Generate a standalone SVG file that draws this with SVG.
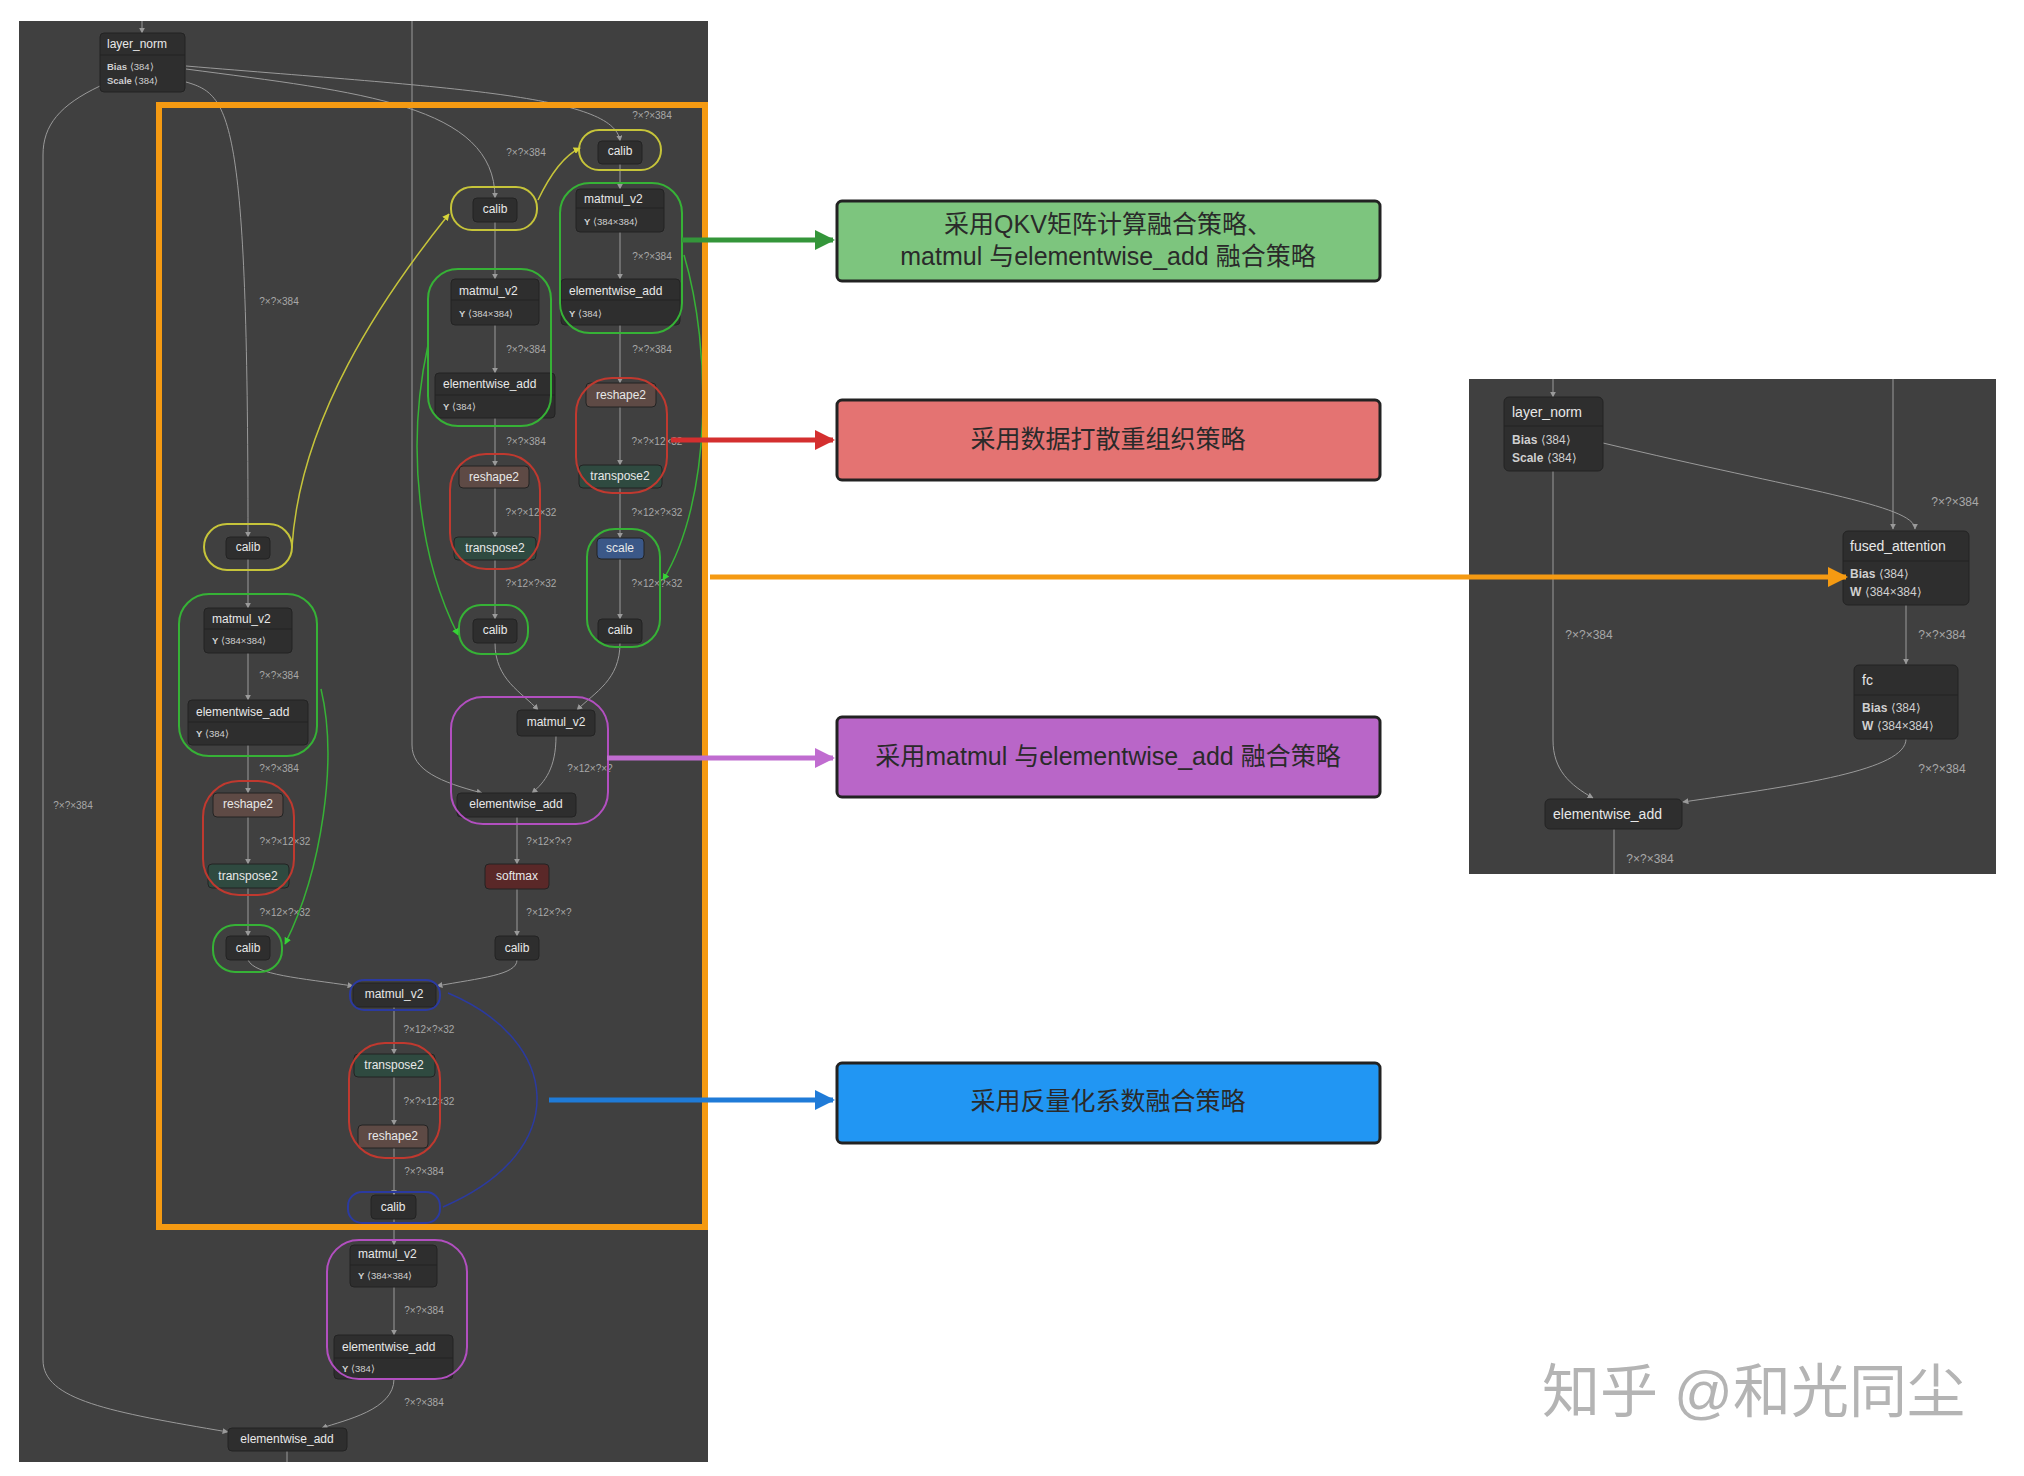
<svg xmlns="http://www.w3.org/2000/svg" width="2024" height="1476" viewBox="0 0 2024 1476">
<style>
text{font-family:"Liberation Sans","Noto Sans CJK SC",sans-serif}
.panel{fill:#404040}
.n{fill:#2e2e2e;stroke:#232323;stroke-width:1}
.rs{fill:#5e4a45}
.tr{fill:#2f4a40}
.sc{fill:#3b5888}
.sm{fill:#5a2828}
.t{fill:#e8e8e8;font-size:12px;dominant-baseline:middle}
.c{text-anchor:middle}
.a{fill:#d0d0d0;font-size:9.5px;dominant-baseline:middle}
.lbl{fill:#a8a8a8;font-size:10px;text-anchor:middle;dominant-baseline:middle}
.e{fill:none;stroke:#9a9a9a;stroke-width:1;marker-end:url(#ah)}
.e2{fill:none;stroke:#9a9a9a;stroke-width:1}
.ry{fill:none;stroke:#c6c43a;stroke-width:2}
.rg{fill:none;stroke:#36b236;stroke-width:2}
.rr{fill:none;stroke:#c0392f;stroke-width:2}
.rp{fill:none;stroke:#b24fc0;stroke-width:2}
.rb{fill:none;stroke:#2b3aa0;stroke-width:2}
.box{stroke:#222;stroke-width:3}
.bt{font-size:25px;fill:#2a2a2a;text-anchor:middle;dominant-baseline:middle}
.t2{fill:#e8e8e8;font-size:14px;dominant-baseline:middle}
.a2{fill:#d0d0d0;font-size:12px;dominant-baseline:middle}
.lbl2{fill:#a8a8a8;font-size:12px;text-anchor:middle;dominant-baseline:middle}
</style>
<defs>
<marker id="ah" viewBox="0 0 10 10" refX="9" refY="5" markerWidth="6" markerHeight="6" markerUnits="userSpaceOnUse" orient="auto"><path d="M0,0 L10,5 L0,10 z" fill="#9a9a9a"/></marker>
<marker id="ay" viewBox="0 0 10 10" refX="9" refY="5" markerWidth="7" markerHeight="7" markerUnits="userSpaceOnUse" orient="auto"><path d="M0,0 L10,5 L0,10 z" fill="#d6d43a"/></marker>
<marker id="ag" viewBox="0 0 10 10" refX="9" refY="5" markerWidth="7" markerHeight="7" markerUnits="userSpaceOnUse" orient="auto"><path d="M0,0 L10,5 L0,10 z" fill="#36d236"/></marker>
<marker id="hg" viewBox="0 0 10 10" refX="9" refY="5" markerWidth="24" markerHeight="20" markerUnits="userSpaceOnUse" orient="auto"><path d="M0,0 L10,5 L0,10 z" fill="#34963a"/></marker>
<marker id="hr" viewBox="0 0 10 10" refX="9" refY="5" markerWidth="24" markerHeight="20" markerUnits="userSpaceOnUse" orient="auto"><path d="M0,0 L10,5 L0,10 z" fill="#d42f2f"/></marker>
<marker id="hp" viewBox="0 0 10 10" refX="9" refY="5" markerWidth="24" markerHeight="20" markerUnits="userSpaceOnUse" orient="auto"><path d="M0,0 L10,5 L0,10 z" fill="#c06cd0"/></marker>
<marker id="hb" viewBox="0 0 10 10" refX="9" refY="5" markerWidth="24" markerHeight="20" markerUnits="userSpaceOnUse" orient="auto"><path d="M0,0 L10,5 L0,10 z" fill="#1f7bd8"/></marker>
<marker id="ho" viewBox="0 0 10 10" refX="9" refY="5" markerWidth="24" markerHeight="20" markerUnits="userSpaceOnUse" orient="auto"><path d="M0,0 L10,5 L0,10 z" fill="#f59a12"/></marker>
</defs>
<rect width="2024" height="1476" fill="#ffffff"/>
<rect class="panel" x="19" y="21" width="689" height="1441"/>
<rect class="panel" x="1469" y="379" width="527" height="495"/>

<g id="connectors">
<path class="e" d="M142,21 L142,33"/>
<path class="e" d="M186,66 C 450,88 615,95 620,141"/>
<path class="e" d="M186,69 C 360,92 495,105 495,198"/>
<path class="e" d="M186,82 C 230,95 248,110 248,537"/>
<path class="e" d="M100,86 C 60,105 43,125 43,155 L43,1360 C43,1400 110,1412 228,1432"/>
<path class="e" d="M412,21 L412,745 C412,770 440,782 482,793"/>
<path class="e" d="M620,164 L620,189"/>
<path class="e" d="M620,232 L620,279"/>
<path class="e" d="M620,325 L620,383"/>
<path class="e" d="M620,407 L620,465"/>
<path class="e" d="M620,488 L620,538"/>
<path class="e" d="M620,559 L620,619"/>
<path class="e" d="M620,643 C 620,680 595,692 577,710"/>
<path class="e" d="M495,222 L495,279"/>
<path class="e" d="M495,325 L495,373"/>
<path class="e" d="M495,418 L495,466"/>
<path class="e" d="M495,488 L495,537"/>
<path class="e" d="M495,560 L495,619"/>
<path class="e" d="M495,643 C 495,680 522,692 538,710"/>
<path class="e" d="M556,736 C 556,768 545,782 532,793"/>
<path class="e" d="M517,817 L517,864"/>
<path class="e" d="M517,889 L517,936"/>
<path class="e" d="M517,960 C 517,975 480,978 437,986"/>
<path class="e" d="M248,559 L248,608"/>
<path class="e" d="M248,653 L248,700"/>
<path class="e" d="M248,745 L248,793"/>
<path class="e" d="M248,817 L248,864"/>
<path class="e" d="M248,888 L248,936"/>
<path class="e" d="M248,960 C 255,975 300,978 353,986"/>
<path class="e" d="M394,1007 L394,1054"/>
<path class="e" d="M394,1077 L394,1125"/>
<path class="e" d="M394,1148 L394,1195"/>
<path class="e" d="M394,1219 L394,1245"/>
<path class="e" d="M394,1287 L394,1335"/>
<path class="e" d="M394,1379 C 394,1410 345,1420 322,1428"/>
<path class="e2" d="M287,1451 L287,1462"/>
<path class="e" d="M1553,379 L1553,397"/>
<path class="e" d="M1893,379 L1893,529"/>
<path class="e" d="M1603,443 C 1800,490 1915,505 1915,529"/>
<path class="e" d="M1906,605 L1906,664"/>
<path class="e" d="M1553,471 L1553,740 C1553,770 1570,785 1593,798"/>
<path class="e" d="M1906,739 C 1906,770 1800,785 1683,802"/>
<path class="e2" d="M1614,829 L1614,874"/>
</g>

<g id="labels">
<text class="lbl" x="652" y="116">?×?×384</text>
<text class="lbl" x="526" y="153">?×?×384</text>
<text class="lbl" x="279" y="302">?×?×384</text>
<text class="lbl" x="652" y="257">?×?×384</text>
<text class="lbl" x="526" y="350">?×?×384</text>
<text class="lbl" x="652" y="350">?×?×384</text>
<text class="lbl" x="526" y="442">?×?×384</text>
<text class="lbl" x="657" y="442">?×?×12×32</text>
<text class="lbl" x="531" y="513">?×?×12×32</text>
<text class="lbl" x="657" y="513">?×12×?×32</text>
<text class="lbl" x="531" y="584">?×12×?×32</text>
<text class="lbl" x="657" y="584">?×12×?×32</text>
<text class="lbl" x="279" y="676">?×?×384</text>
<text class="lbl" x="279" y="769">?×?×384</text>
<text class="lbl" x="590" y="769">?×12×?×?</text>
<text class="lbl" x="285" y="842">?×?×12×32</text>
<text class="lbl" x="549" y="842">?×12×?×?</text>
<text class="lbl" x="285" y="913">?×12×?×32</text>
<text class="lbl" x="549" y="913">?×12×?×?</text>
<text class="lbl" x="73" y="806">?×?×384</text>
<text class="lbl" x="429" y="1030">?×12×?×32</text>
<text class="lbl" x="429" y="1102">?×?×12×32</text>
<text class="lbl" x="424" y="1172">?×?×384</text>
<text class="lbl" x="424" y="1311">?×?×384</text>
<text class="lbl" x="424" y="1403">?×?×384</text>
<text class="lbl2" x="1955" y="503">?×?×384</text>
<text class="lbl2" x="1942" y="636">?×?×384</text>
<text class="lbl2" x="1589" y="636">?×?×384</text>
<text class="lbl2" x="1942" y="770">?×?×384</text>
<text class="lbl2" x="1650" y="860">?×?×384</text>
</g>

<g id="layer_norm"><rect class="n" x="100" y="33" width="85" height="59" rx="4"/><line x1="100" y1="55" x2="185" y2="55" stroke="#222"/><text class="t" x="107" y="45">layer_norm</text><text class="a" x="107" y="67"><tspan font-weight="bold">Bias</tspan> ⟨384⟩</text><text class="a" x="107" y="81"><tspan font-weight="bold">Scale</tspan> ⟨384⟩</text></g>
<g id="calibA"><rect class="n" x="598" y="141" width="44" height="23" rx="4"/><text class="t c" x="620" y="152">calib</text></g>
<g id="calibB"><rect class="n" x="473" y="198" width="44" height="24" rx="4"/><text class="t c" x="495" y="210">calib</text></g>
<g id="mmR"><rect class="n" x="576" y="189" width="88" height="43" rx="4"/><line x1="576" y1="208" x2="664" y2="208" stroke="#222"/><text class="t" x="584" y="200">matmul_v2</text><text class="a" x="584" y="222"><tspan font-weight="bold">Y</tspan> ⟨384×384⟩</text></g>
<g id="ewR"><rect class="n" x="561" y="279" width="119" height="46" rx="4"/><line x1="561" y1="300" x2="680" y2="300" stroke="#222"/><text class="t" x="569" y="292">elementwise_add</text><text class="a" x="569" y="314"><tspan font-weight="bold">Y</tspan> ⟨384⟩</text></g>
<g id="reR"><rect class="n rs" x="586" y="383" width="70" height="24" rx="4"/><text class="t c" x="621" y="396">reshape2</text></g>
<g id="trR"><rect class="n tr" x="579" y="465" width="83" height="23" rx="4"/><text class="t c" x="620" y="477">transpose2</text></g>
<g id="scale"><rect class="n sc" x="597" y="538" width="47" height="21" rx="4"/><text class="t c" x="620" y="549">scale</text></g>
<g id="calibR2"><rect class="n" x="598" y="619" width="44" height="24" rx="4"/><text class="t c" x="620" y="631">calib</text></g>
<g id="mmM"><rect class="n" x="451" y="279" width="88" height="46" rx="4"/><line x1="451" y1="300" x2="539" y2="300" stroke="#222"/><text class="t" x="459" y="292">matmul_v2</text><text class="a" x="459" y="314"><tspan font-weight="bold">Y</tspan> ⟨384×384⟩</text></g>
<g id="ewM"><rect class="n" x="435" y="373" width="120" height="45" rx="4"/><line x1="435" y1="395" x2="555" y2="395" stroke="#222"/><text class="t" x="443" y="385">elementwise_add</text><text class="a" x="443" y="407"><tspan font-weight="bold">Y</tspan> ⟨384⟩</text></g>
<g id="reM"><rect class="n rs" x="459" y="466" width="70" height="22" rx="4"/><text class="t c" x="494" y="478">reshape2</text></g>
<g id="trM"><rect class="n tr" x="454" y="537" width="82" height="23" rx="4"/><text class="t c" x="495" y="549">transpose2</text></g>
<g id="calibM2"><rect class="n" x="473" y="619" width="44" height="24" rx="4"/><text class="t c" x="495" y="631">calib</text></g>
<g id="calibL"><rect class="n" x="226" y="537" width="44" height="22" rx="4"/><text class="t c" x="248" y="548">calib</text></g>
<g id="mmL"><rect class="n" x="204" y="608" width="88" height="45" rx="4"/><line x1="204" y1="629" x2="292" y2="629" stroke="#222"/><text class="t" x="212" y="620">matmul_v2</text><text class="a" x="212" y="641"><tspan font-weight="bold">Y</tspan> ⟨384×384⟩</text></g>
<g id="ewL"><rect class="n" x="188" y="700" width="120" height="45" rx="4"/><line x1="188" y1="722" x2="308" y2="722" stroke="#222"/><text class="t" x="196" y="713">elementwise_add</text><text class="a" x="196" y="734"><tspan font-weight="bold">Y</tspan> ⟨384⟩</text></g>
<g id="reL"><rect class="n rs" x="213" y="793" width="70" height="24" rx="4"/><text class="t c" x="248" y="805">reshape2</text></g>
<g id="trL"><rect class="n tr" x="208" y="864" width="81" height="24" rx="4"/><text class="t c" x="248" y="877">transpose2</text></g>
<g id="calibL2"><rect class="n" x="226" y="936" width="44" height="24" rx="4"/><text class="t c" x="248" y="949">calib</text></g>
<g id="mmP"><rect class="n" x="517" y="710" width="78" height="26" rx="4"/><text class="t c" x="556" y="723">matmul_v2</text></g>
<g id="ewP"><rect class="n" x="457" y="793" width="119" height="24" rx="4"/><text class="t c" x="516" y="805">elementwise_add</text></g>
<g id="softmax"><rect class="n sm" x="485" y="864" width="64" height="25" rx="4"/><text class="t c" x="517" y="877">softmax</text></g>
<g id="calibS"><rect class="n" x="495" y="936" width="44" height="24" rx="4"/><text class="t c" x="517" y="949">calib</text></g>
<g id="mmB"><rect class="n" x="353" y="983" width="83" height="24" rx="4"/><text class="t c" x="394" y="995">matmul_v2</text></g>
<g id="trB"><rect class="n tr" x="354" y="1054" width="81" height="23" rx="4"/><text class="t c" x="394" y="1066">transpose2</text></g>
<g id="reB"><rect class="n rs" x="358" y="1125" width="70" height="23" rx="4"/><text class="t c" x="393" y="1137">reshape2</text></g>
<g id="calibB2"><rect class="n" x="371" y="1195" width="45" height="24" rx="4"/><text class="t c" x="393" y="1208">calib</text></g>
<g id="mm5"><rect class="n" x="350" y="1245" width="87" height="42" rx="4"/><line x1="350" y1="1265" x2="437" y2="1265" stroke="#222"/><text class="t" x="358" y="1255">matmul_v2</text><text class="a" x="358" y="1276"><tspan font-weight="bold">Y</tspan> ⟨384×384⟩</text></g>
<g id="ew5"><rect class="n" x="334" y="1335" width="119" height="44" rx="4"/><line x1="334" y1="1358" x2="453" y2="1358" stroke="#222"/><text class="t" x="342" y="1348">elementwise_add</text><text class="a" x="342" y="1369"><tspan font-weight="bold">Y</tspan> ⟨384⟩</text></g>
<g id="ewF"><rect class="n" x="228" y="1428" width="119" height="23" rx="4"/><text class="t c" x="287" y="1440">elementwise_add</text></g>

<g id="rings">
<rect class="ry" x="579" y="130" width="82" height="40" rx="20"/>
<rect class="ry" x="451" y="187" width="86" height="43" rx="21"/>
<rect class="ry" x="204" y="524" width="88" height="46" rx="23"/>
<path fill="none" stroke="#c6c43a" stroke-width="1.5" marker-end="url(#ay)" d="M292,547 C 300,420 380,300 449,214"/>
<path fill="none" stroke="#c6c43a" stroke-width="1.5" marker-end="url(#ay)" d="M538,200 C 550,175 565,155 580,148"/>
<rect class="rg" x="560" y="183" width="122" height="150" rx="30"/>
<rect class="rg" x="428" y="269" width="123" height="157" rx="30"/>
<rect class="rg" x="587" y="529" width="73" height="118" rx="28"/>
<rect class="rg" x="459" y="605" width="69" height="49" rx="22"/>
<rect class="rg" x="179" y="594" width="138" height="162" rx="30"/>
<rect class="rg" x="213" y="925" width="69" height="47" rx="22"/>
<path fill="none" stroke="#36b236" stroke-width="1.5" marker-end="url(#ag)" d="M684,255 C 712,350 712,500 663,580"/>
<path fill="none" stroke="#36b236" stroke-width="1.5" marker-end="url(#ag)" d="M428,345 C 405,450 420,560 458,635"/>
<path fill="none" stroke="#36b236" stroke-width="1.5" marker-end="url(#ag)" d="M321,689 C 338,760 322,870 285,944"/>
<rect class="rr" x="576" y="378" width="91" height="115" rx="36"/>
<rect class="rr" x="450" y="454" width="90" height="115" rx="36"/>
<rect class="rr" x="203" y="781" width="91" height="114" rx="36"/>
<rect class="rr" x="349" y="1043" width="91" height="115" rx="36"/>
<rect class="rp" x="451" y="697" width="157" height="127" rx="32"/>
<rect class="rp" x="327" y="1240" width="140" height="139" rx="32"/>
<rect class="rb" x="350" y="980" width="90" height="30" rx="14"/>
<rect class="rb" x="348" y="1192" width="92" height="31" rx="14"/>
<path fill="none" stroke="#2b3aa0" stroke-width="1.5" d="M448,993 C 560,1040 575,1150 443,1207"/>
</g>

<rect x="159" y="105" width="546" height="1122" fill="none" stroke="#f59a12" stroke-width="6"/>

<g id="rp_layer_norm"><rect class="n" x="1504" y="397" width="99" height="74" rx="5"/><line x1="1504" y1="426" x2="1603" y2="426" stroke="#222"/><text class="t2" x="1512" y="413">layer_norm</text><text class="a2" x="1512" y="441"><tspan font-weight="bold">Bias</tspan> ⟨384⟩</text><text class="a2" x="1512" y="459"><tspan font-weight="bold">Scale</tspan> ⟨384⟩</text></g>
<g id="rp_fused_attention"><rect class="n" x="1843" y="531" width="126" height="74" rx="5"/><line x1="1843" y1="561" x2="1969" y2="561" stroke="#222"/><text class="t2" x="1850" y="547">fused_attention</text><text class="a2" x="1850" y="575"><tspan font-weight="bold">Bias</tspan> ⟨384⟩</text><text class="a2" x="1850" y="593"><tspan font-weight="bold">W</tspan> ⟨384×384⟩</text></g>
<g id="rp_fc"><rect class="n" x="1854" y="665" width="104" height="74" rx="5"/><line x1="1854" y1="695" x2="1958" y2="695" stroke="#222"/><text class="t2" x="1862" y="681">fc</text><text class="a2" x="1862" y="709"><tspan font-weight="bold">Bias</tspan> ⟨384⟩</text><text class="a2" x="1862" y="727"><tspan font-weight="bold">W</tspan> ⟨384×384⟩</text></g>
<g id="rp_elementwise_add"><rect class="n" x="1545" y="799" width="137" height="30" rx="5"/><text class="t2" x="1553" y="815">elementwise_add</text></g>

<g id="callout_arrows">
<line x1="682" y1="240" x2="833" y2="240" stroke="#34963a" stroke-width="5" marker-end="url(#hg)"/>
<line x1="671" y1="440" x2="833" y2="440" stroke="#d42f2f" stroke-width="5" marker-end="url(#hr)"/>
<line x1="607" y1="758" x2="833" y2="758" stroke="#c06cd0" stroke-width="5" marker-end="url(#hp)"/>
<line x1="549" y1="1100" x2="833" y2="1100" stroke="#1f7bd8" stroke-width="5" marker-end="url(#hb)"/>
<line x1="710" y1="577" x2="1846" y2="577" stroke="#f59a12" stroke-width="5" marker-end="url(#ho)"/>
</g>

<g id="callout_green"><rect class="box" x="837" y="201" width="543" height="80" rx="5" fill="#7dc57e"/><text class="bt" x="1108" y="226">采用QKV矩阵计算融合策略、</text><text class="bt" x="1108" y="258">matmul 与elementwise_add 融合策略</text></g>
<g id="callout_red"><rect class="box" x="837" y="400" width="543" height="80" rx="5" fill="#e47372"/><text class="bt" x="1108" y="441">采用数据打散重组织策略</text></g>
<g id="callout_purple"><rect class="box" x="837" y="717" width="543" height="80" rx="5" fill="#b966c8"/><text class="bt" x="1108" y="758">采用matmul 与elementwise_add 融合策略</text></g>
<g id="callout_blue"><rect class="box" x="837" y="1063" width="543" height="80" rx="5" fill="#2196f3"/><text class="bt" x="1108" y="1103">采用反量化系数融合策略</text></g>

<text x="1542" y="1412" font-size="58" fill="#b4b4b4" font-family="'Noto Sans CJK SC',sans-serif">知乎 @和光同尘</text>
</svg>
